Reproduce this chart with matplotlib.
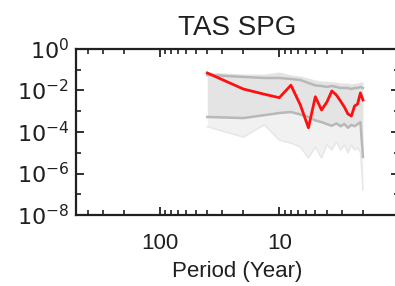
import numpy as np
import matplotlib
matplotlib.use("Agg")
import matplotlib.pyplot as plt
from matplotlib.ticker import FixedLocator, NullFormatter, LogLocator, FuncFormatter

# Periods (years): 40/k, k = 1..20
periods = [40.0, 20.0, 13.33, 10.0, 8.0, 6.67, 5.71, 5.0, 4.44, 4.0,
           3.64, 3.33, 3.08, 2.86, 2.67, 2.5, 2.35, 2.22, 2.1, 2.0]

# Observed spectrum (red)
obs = [0.070, 0.0118, 0.0066, 0.0045, 0.018, 0.0020, 1.6e-4, 0.005, 0.00115, 0.0028,
       0.0095, 0.006, 0.0031, 0.0016, 7.4e-4, 5.9e-4, 0.0018, 0.0022, 0.0076, 0.0035]

# Upper / lower percentile lines of the ensemble (dark gray)
upper = [0.056, 0.045, 0.040, 0.040, 0.036, 0.032, 0.023, 0.0175, 0.0165, 0.0148,
         0.0165, 0.0148, 0.0132, 0.0132, 0.0132, 0.0118, 0.0132, 0.0132, 0.0148, 0.0132]
lower = [5.3e-4, 4.7e-4, 6.5e-4, 8.2e-4, 9.2e-4, 7.0e-4, 5.3e-4, 3.6e-4, 3.0e-4, 2.4e-4,
         2.0e-4, 2.6e-4, 1.9e-4, 2.4e-4, 1.6e-4, 2.2e-4, 1.9e-4, 2.4e-4, 3.0e-4, 6.3e-6]

# Ensemble envelope (light gray)
ens_max = [0.078, 0.062, 0.062, 0.078, 0.056, 0.050, 0.040, 0.032, 0.0287, 0.0287,
           0.0257, 0.0257, 0.023, 0.023, 0.023, 0.0206, 0.023, 0.023, 0.0257, 0.0257]
ens_min = [1.8e-4, 5.7e-5, 2.2e-4, 4.1e-5, 2.9e-5, 1.9e-5, 5.6e-6, 1.9e-5, 5.6e-6, 2.4e-5,
           1.35e-5, 3.3e-5, 1.35e-5, 2.4e-5, 9.8e-6, 2.4e-5, 1.35e-5, 1.7e-5, 1.1e-5, 1.6e-7]

x_major = [100, 10, 1]
x_labels = {100: "100", 10: "10", 1: ""}
y_major = [1e0, 1e-2, 1e-4, 1e-6, 1e-8]

plt.rcParams['font.family'] = ['Liberation Sans', 'DejaVu Sans']

fig = plt.figure(figsize=(3.95, 2.86), dpi=100)
ax = fig.add_axes([0.1924, 0.248, 0.8177, 0.5808])

ax.fill_between(periods, ens_min, lower, color='#f1f1f1', lw=0, zorder=1)
ax.plot(periods, ens_min, color='#e6e6e6', lw=1.0, zorder=1.5)
ax.fill_between(periods, lower, ens_max, color='#e4e4e4', lw=0, zorder=2)
ax.plot(periods, upper, color='#b8b8b8', lw=1.8, zorder=3)
ax.plot(periods, lower, color='#b8b8b8', lw=1.8, zorder=3)
ax.plot(periods, obs, color='#ff1010', lw=2.0, zorder=4)

ax.set_xscale('log')
ax.set_yscale('log')
ax.set_xlim(500, 1)
ax.set_ylim(1e-8, 1)

ax.xaxis.set_major_locator(FixedLocator(x_major))
ax.xaxis.set_major_formatter(FuncFormatter(lambda v, p: x_labels.get(int(round(v)), "")))
ax.xaxis.set_minor_locator(LogLocator(base=10, subs=np.arange(2, 10)))
ax.xaxis.set_minor_formatter(NullFormatter())

ax.yaxis.set_major_locator(FixedLocator(y_major))
ax.yaxis.set_major_formatter(FuncFormatter(lambda v, p: r"$10^{%d}$" % int(round(np.log10(v)))))
ax.yaxis.set_minor_locator(FixedLocator([1e-1, 1e-3, 1e-5, 1e-7]))
ax.yaxis.set_minor_formatter(NullFormatter())

ax.tick_params(which='both', direction='in', top=True, right=True, colors='#202020',
               labelcolor='#202020')
ax.tick_params(which='major', length=6, width=1.3, labelsize=16)
ax.tick_params(which='minor', length=3.5, width=1.2)
ax.tick_params(axis='x', which='major', pad=13)
ax.tick_params(axis='y', which='major', pad=5)

for s in ax.spines.values():
    s.set_linewidth(1.6)
    s.set_color('#202020')

ax.set_xlabel('Period (Year)', fontsize=16, labelpad=5, color='#202020')
ax.set_title('TAS SPG', fontsize=20, pad=10, color='#202020')

fig.savefig('out.png', dpi=100)
